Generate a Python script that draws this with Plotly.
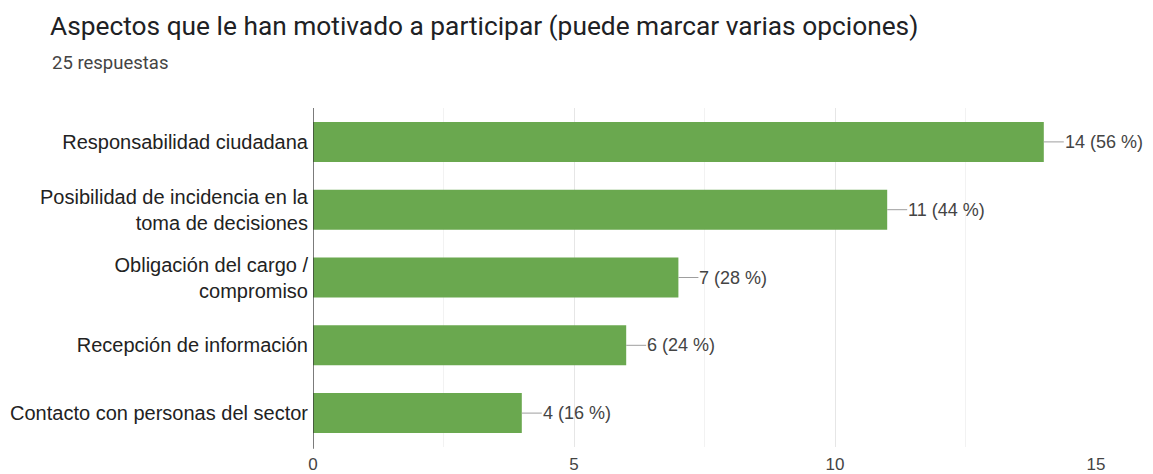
import plotly.graph_objects as go

categories = [
    "Responsabilidad ciudadana",
    "Posibilidad de incidencia en la<br>toma de decisiones",
    "Obligación del cargo /<br>compromiso",
    "Recepción de información",
    "Contacto con personas del sector",
]
counts = [14, 11, 7, 6, 4]
total_responses = 25
x_ticks = [0, 5, 10, 15]

title_text = "Aspectos que le han motivado a participar (puede marcar varias opciones)"
subtitle_text = f"{total_responses} respuestas"

labels = [f"{c} ({round(c / total_responses * 100)} %)" for c in counts]

# the page body adds an 8px offset; size the figure to fit the window
OFF = 8
W, H = 1153 - OFF, 474 - OFF
ml, mr, mt, mb = 313 - OFF, 57, 108 - OFF, 27
plot_w = W - ml - mr
plot_h = H - mt - mb

fig = go.Figure()
fig.add_trace(go.Bar(
    x=counts, y=categories, orientation="h",
    marker=dict(color="#6aa84f", line=dict(width=0)),
    hoverinfo="skip",
))

for c, cat, lab in zip(counts, categories, labels):
    fig.add_annotation(
        x=c, y=cat, xref="x", yref="y",
        text=lab, showarrow=True, arrowhead=0, arrowwidth=1,
        arrowcolor="#9e9e9e", ax=20, ay=0, xanchor="left",
        standoff=0, borderpad=0,
        font=dict(family="Liberation Sans, Arial", size=18, color="#444444"),
    )

fig.add_annotation(
    xref="paper", yref="paper",
    x=(50 - OFF - ml) / plot_w, y=1 + (mt - (62.5 - OFF)) / plot_h,
    text=subtitle_text, showarrow=False, xanchor="left", yanchor="middle",
    font=dict(family="Roboto", size=18.5, color="#444444"),
)

fig.update_layout(
    template="none",
    width=W, height=H,
    margin=dict(l=ml, r=mr, t=mt, b=mb, autoexpand=False),
    paper_bgcolor="white", plot_bgcolor="white",
    showlegend=False,
    bargap=0.41,
    title=dict(
        text=title_text, xref="container", yref="container",
        x=(50 - OFF) / W, xanchor="left", y=1 - (25.7 - OFF) / H, yanchor="middle",
        font=dict(family="Roboto", size=26.3, color="#202124"),
    ),
    xaxis=dict(
        range=[0, 15], tickvals=x_ticks, showgrid=True, gridcolor="#e6e6e6",
        gridwidth=1, zeroline=False, showline=False, ticks="",
        minor=dict(dtick=2.5, showgrid=True, gridcolor="#f2f2f2", gridwidth=1),
        tickfont=dict(family="Liberation Sans, Arial", size=17, color="#444444"),
        ticklabelstandoff=5, automargin=False,
        fixedrange=True,
    ),
    yaxis=dict(
        autorange="reversed", showgrid=False, zeroline=False,
        showline=False, ticks="",
        tickfont=dict(family="Liberation Sans, Arial", size=20, color="#222222"),
        ticklabelstandoff=4, automargin=False,
        fixedrange=True,
    ),
    shapes=[dict(type="line", xref="x", yref="paper", x0=0, x1=0, y0=-0.005, y1=1,
                 line=dict(color="#333333", width=1.3))],
)

fig.write_html("out.html")
